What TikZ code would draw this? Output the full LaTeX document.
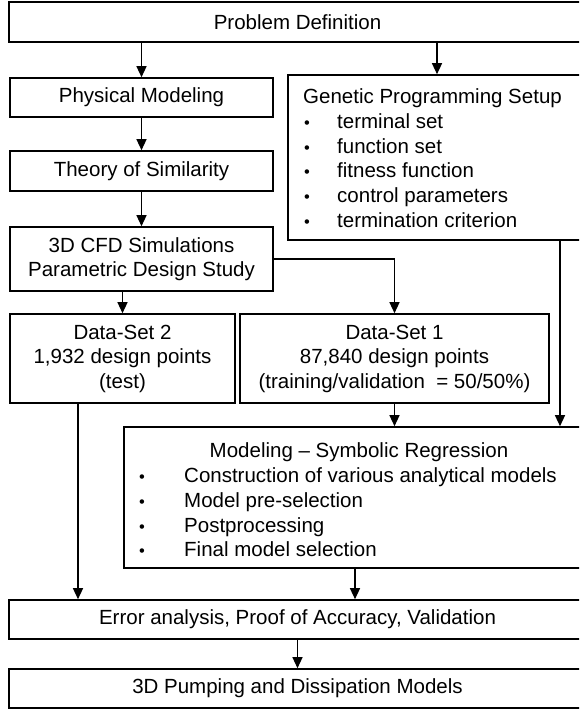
\documentclass[tikz,border=0pt]{standalone}
\usepackage{fontspec}
\setmainfont{Liberation Sans}
\usetikzlibrary{arrows.meta,calc}
\begin{document}
\begin{tikzpicture}[x=1pt,y=-1pt,
  font=\fontsize{20.5}{24.5}\selectfont,
  box/.style={draw, line width=1.6pt, rectangle, inner sep=0pt, align=center},
  arr/.style={line width=1.3pt, -{Triangle[length=11pt,width=10pt]}},
  txt/.style={inner sep=0pt, anchor=base west},
  ctxt/.style={inner sep=0pt, anchor=base},
  bul/.style={inner sep=0pt, anchor=base, font=\fontsize{16.5}{16.5}\selectfont}]
\useasboundingbox (0,0) rectangle (579,711);
\clip (0,0) rectangle (579,711);
% boxes
\node[box, minimum width=577, minimum height=40] (pd) at (297.5,22) {Problem Definition};
\node[box, minimum width=263, minimum height=39] (pm) at (141.5,97.5) {Physical Modeling};
\node[box, minimum width=263, minimum height=40] (tos) at (141.5,171) {Theory of Similarity};
\node[box, minimum width=298, minimum height=165] (gp) at (437,157.5) {};
\node[box, minimum width=263, minimum height=64] (cfd) at (141.5,259) {3D CFD Simulations\\Parametric Design Study};
\node[box, minimum width=225, minimum height=89] (ds2) at (122.5,358.5) {Data-Set 2\\1,932 design points\\(test)};
\node[box, minimum width=309, minimum height=89] (ds1) at (394.5,358.5) {Data-Set 1\\87,840 design points\\(training/validation\ \ = 50/50\%)};
\node[box, minimum width=462, minimum height=141] (mod) at (355,497.5) {};
\node[box, minimum width=577, minimum height=39] (err) at (297.5,619.5) {Error analysis, Proof of Accuracy, Validation};
\node[box, minimum width=577, minimum height=39] (fin) at (297.5,688.5) {3D Pumping and Dissipation Models};
% GP text
\node[txt] (gpt) at (303,104) {Genetic Programming Setup};
\node[bul] (gpb1) at (307,129) {•};
\node[txt] (gpi1) at (337,129) {terminal set};
\node[bul] (gpb2) at (307,153.5) {•};
\node[txt] (gpi2) at (337,153.5) {function set};
\node[bul] (gpb3) at (307,178) {•};
\node[txt] (gpi3) at (337,178) {fitness function};
\node[bul] (gpb4) at (307,202.5) {•};
\node[txt] (gpi4) at (337,202.5) {control parameters};
\node[bul] (gpb5) at (307,227) {•};
\node[txt] (gpi5) at (337,227) {termination criterion};
% Modeling text
\node[ctxt] (mt) at (359,457) {Modeling -- Symbolic Regression};
\node[bul] (mb1) at (142,482) {•};
\node[txt] (mi1) at (184,482) {Construction of various analytical models};
\node[bul] (mb2) at (142,507) {•};
\node[txt] (mi2) at (184,507) {Model pre-selection};
\node[bul] (mb3) at (142,532) {•};
\node[txt] (mi3) at (184,532) {Postprocessing};
\node[bul] (mb4) at (142,556) {•};
\node[txt] (mi4) at (184,556) {Final model selection};
% coordinates
\coordinate (gpo) at (560,240);
\coordinate (ds2o) at (78,403);
% arrows
\draw[arr] (pm.north |- pd.south) -- (pm.north);
\draw[arr] (gp.north |- pd.south) -- (gp.north);
\draw[arr] (pm.south) -- (tos.north);
\draw[arr] (tos.south) -- (cfd.north);
\draw[arr] (ds2.north |- cfd.south) -- (ds2.north);
\draw[arr] (cfd.east) -| (ds1.north);
\draw[arr] (ds1.south) -- (ds1.south |- mod.north);
\draw[arr] (gpo) -- (gpo |- mod.north);
\draw[arr] (ds2o) -- (ds2o |- err.north);
\draw[arr] (mod.south) -- (mod.south |- err.north);
\draw[arr] (err.south) -- (fin.north);
\end{tikzpicture}
\end{document}
